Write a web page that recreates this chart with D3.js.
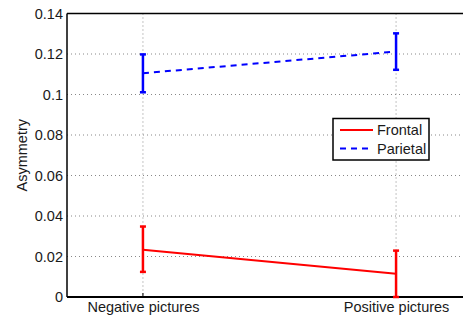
<!DOCTYPE html>
<html>
<head>
<meta charset="utf-8">
<script src="https://cdn.jsdelivr.net/npm/d3@7"></script>
<style>
  body { margin: 0; background: #fff; }
  svg { display: block; font-family: "Liberation Sans", Arial, sans-serif; }
  .grid line { stroke: #888; stroke-width: 1; stroke-dasharray: 1,3; }
</style>
</head>
<body>
<svg id="chart" width="463" height="320"></svg>
<script>
// Asymmetry for negative / positive pictures, mean with error bars
const categories = ['Negative pictures', 'Positive pictures'];
const yTicks = [0, 0.02, 0.04, 0.06, 0.08, 0.1, 0.12, 0.14];

const frontalMean = [0.0233, 0.0115];
const frontalLow = [0.0124, 0.0];
const frontalHigh = [0.0348, 0.0229];

const parietalMean = [0.1105, 0.1212];
const parietalLow = [0.1011, 0.1122];
const parietalHigh = [0.1198, 0.1302];

const series = [
  { name: 'Frontal', color: '#ff0000', dash: null, mean: frontalMean, low: frontalLow, high: frontalHigh },
  { name: 'Parietal', color: '#0000ff', dash: '6,5', mean: parietalMean, low: parietalLow, high: parietalHigh }
];

const FONT = 14.5;
const TEXT = '#1a1a1a';

const svg = d3.select('#chart');
const plot = { left: 67, top: 13.5, right: 472, bottom: 297 };

// x runs over category index 1..2 with MATLAB-like padding
const x = d3.scaleLinear().domain([0.7, 2.3]).range([plot.left, plot.right]);
const y = d3.scaleLinear().domain([0, 0.14]).range([plot.bottom, plot.top]);

// Grid
const grid = svg.append('g').attr('class', 'grid');
grid.selectAll('.hg')
  .data(yTicks.filter(t => t > 0 && t < 0.14))
  .enter().append('line')
  .attr('x1', plot.left).attr('x2', plot.right)
  .attr('y1', d => y(d)).attr('y2', d => y(d));
grid.selectAll('.vg')
  .data(categories)
  .enter().append('line')
  .attr('x1', (d, i) => x(i + 1)).attr('x2', (d, i) => x(i + 1))
  .attr('y1', plot.top).attr('y2', plot.bottom);

// Axes, labels outside, no outer ticks
const yAxis = d3.axisLeft(y).tickValues(yTicks).tickSize(0).tickPadding(4)
  .tickFormat(d => d === 0 ? '0' : String(+d.toFixed(2)));
const yG = svg.append('g').attr('transform', `translate(${plot.left},0)`).call(yAxis);
yG.select('.domain').remove();
yG.attr('font-size', FONT).attr('font-family', null);
yG.selectAll('text').attr('fill', TEXT);

const xAxis = d3.axisBottom(x).tickValues([1, 2]).tickSize(0).tickPadding(5)
  .tickFormat((d, i) => categories[i]);
const xG = svg.append('g').attr('transform', `translate(0,${plot.bottom})`).call(xAxis);
xG.select('.domain').remove();
xG.attr('font-size', FONT).attr('font-family', null);
xG.selectAll('text').attr('fill', TEXT);

// small inner ticks on the x axis
svg.selectAll('.xtick')
  .data([1, 2])
  .enter().append('line')
  .attr('x1', d => x(d)).attr('x2', d => x(d))
  .attr('y1', plot.bottom).attr('y2', plot.bottom - 4)
  .attr('stroke', '#000').attr('stroke-width', 1);

// Box
svg.append('line').attr('x1', plot.left).attr('x2', plot.right)
  .attr('y1', plot.top).attr('y2', plot.top).attr('stroke', '#000').attr('stroke-width', 1.5);
svg.append('line').attr('x1', plot.left).attr('x2', plot.right)
  .attr('y1', plot.bottom).attr('y2', plot.bottom).attr('stroke', '#000').attr('stroke-width', 2);
svg.append('line').attr('x1', plot.left).attr('x2', plot.left)
  .attr('y1', plot.top).attr('y2', plot.bottom).attr('stroke', '#000').attr('stroke-width', 1.5);

// Y label
svg.append('text')
  .attr('transform', `translate(27,${(plot.top + plot.bottom) / 2}) rotate(-90)`)
  .attr('text-anchor', 'middle')
  .attr('font-size', FONT)
  .attr('fill', TEXT)
  .text('Asymmetry');

// Series: lines and error bars
const line = d3.line().x((d, i) => x(i + 1)).y(d => y(d));
series.forEach(s => {
  const g = svg.append('g');
  g.append('path')
    .attr('d', line(s.mean))
    .attr('fill', 'none')
    .attr('stroke', s.color)
    .attr('stroke-width', 2)
    .attr('stroke-dasharray', s.dash);

  s.mean.forEach((m, i) => {
    const cx = x(i + 1);
    g.append('line')
      .attr('x1', cx).attr('x2', cx)
      .attr('y1', y(s.low[i])).attr('y2', y(s.high[i]))
      .attr('stroke', s.color).attr('stroke-width', 2.5);
    [s.low[i], s.high[i]].forEach(v => {
      g.append('line')
        .attr('x1', cx - 3).attr('x2', cx + 3)
        .attr('y1', y(v)).attr('y2', y(v))
        .attr('stroke', s.color).attr('stroke-width', 2.5);
    });
  });
});

// Legend
const legend = svg.append('g').attr('transform', 'translate(333,118.5)');
legend.append('rect')
  .attr('width', 96).attr('height', 41.5)
  .attr('fill', '#fff').attr('stroke', '#000').attr('stroke-width', 1.5);
series.forEach((s, i) => {
  const ly = 11.5 + i * 18.5;
  legend.append('line')
    .attr('x1', 7).attr('x2', 40)
    .attr('y1', ly).attr('y2', ly)
    .attr('stroke', s.color).attr('stroke-width', 2)
    .attr('stroke-dasharray', s.dash);
  legend.append('text')
    .attr('x', 44).attr('y', ly + 5)
    .attr('font-size', FONT).attr('fill', TEXT)
    .text(s.name);
});
</script>
</body>
</html>
